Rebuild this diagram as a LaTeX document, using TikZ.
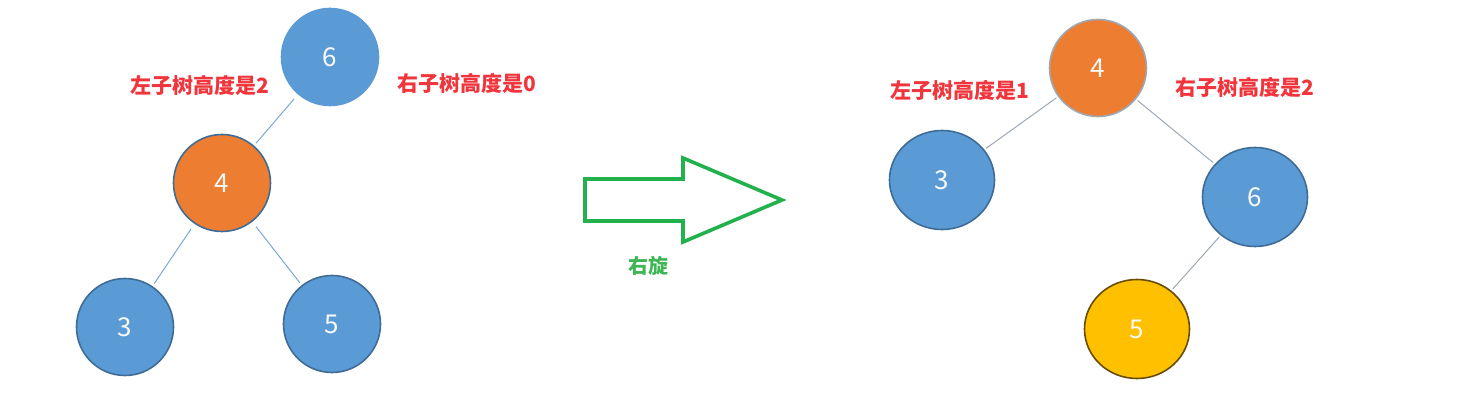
\documentclass[tikz,border=0pt]{standalone}
\usepackage{fontspec}
\newfontfamily\cjk{Noto Sans CJK SC}
\usetikzlibrary{shapes.geometric,positioning}

\definecolor{nblue}{HTML}{5B9BD5}
\definecolor{nborder}{HTML}{3F6C96}
\definecolor{norange}{HTML}{ED7D31}
\definecolor{nyellow}{HTML}{FFC000}
\definecolor{ered}{HTML}{F0353C}
\definecolor{agreen}{HTML}{22B14C}
\definecolor{lgreen}{HTML}{3DB653}
\definecolor{eblue}{HTML}{7AA8D8}
\definecolor{egray}{HTML}{9EA8B2}

\begin{document}
\begin{tikzpicture}[%
    on grid,                    % Distances are measured centre to centre
    node distance=100pt,        % Global setup of node spacing
    line join=miter,
    ]
% -------------------------------------------------
% A few node styles
\tikzset{
  base/.style={draw=nborder, line width=1.6pt, inner sep=0pt, text=white!95!gray,
    font={\cjk\fontsize{26}{30}\selectfont}},
  cnode/.style={base, circle, fill=nblue, minimum size=97pt},
  enode/.style={base, ellipse, fill=nblue, minimum width=105pt, minimum height=99pt},
  hgt/.style={text=ered, font={\cjk\bfseries\fontsize{21}{25}\selectfont}},
  % Connector line styles for the two trees
  lft/.style={draw=eblue, line width=1pt, shorten <=6pt, shorten >=3pt},
  rgt/.style={draw=egray, line width=1pt, shorten <=2pt, shorten >=2pt},
  rot/.style={draw=agreen, line width=3.6pt},
}
\useasboundingbox (0pt,0pt) rectangle (1484pt,-419pt);
% -------------------------------------------------
% Left tree, before the rotation
\node [cnode, draw=nblue] (l6) at (330pt,-57pt) {6};
\node [cnode, fill=norange, below left = 126pt and 108pt of l6] (l4) {4};
\node [cnode, below left = 144pt and 97pt of l4] (l3) {3};
\node [cnode, below right = 141pt and 110pt of l4] (l5) {5};

\node [hgt, below left = 28pt and 130pt of l6] (lh) {左子树高度是2};
\node [hgt, below right = 26pt and 137pt of l6] (rh) {右子树高度是0};

\draw[lft] (l6) to (l4);		%6,4
\draw[lft] (l4) to (l3);		%4,3
\draw[lft] (l4) to (l5);		%4,5

% -------------------------------------------------
% The rotation arrow
\coordinate (a) at (585pt,-179pt);
\draw[rot] (a) -- ++(98pt,0pt) -- ++(0pt,21pt) -- ++(99pt,-42pt)
  -- ++(-99pt,-42pt) -- ++(0pt,21pt) -- ++(-98pt,0pt) -- cycle;
\node [text=lgreen, font={\cjk\bfseries\fontsize{20}{24}\selectfont}] (rl)
  at (648pt,-266pt) {右旋};

% -------------------------------------------------
% Right tree, after the rotation
\node [cnode, fill=norange, draw=egray, minimum size=97pt] (r4) at (1098pt,-68pt) {4};
\node [enode, below left = 112pt and 156pt of r4] (r3) {3};
\node [enode, below right = 129pt and 157pt of r4] (r6) {6};
\node [enode, fill=nyellow, draw=black!60!nyellow, below left = 132pt and 118pt of r6] (r5) {5};

\node [hgt, below left = 22pt and 138pt of r4] (lh2) {左子树高度是1};
\node [hgt, below right = 19pt and 147pt of r4] (rh2) {右子树高度是2};

\draw[rgt] (r4) to (r3);		%4,3
\draw[rgt] (r4) to (r6);		%4,6
\draw[rgt] (r6) to (r5);		%6,5

% -------------------------------------------------
\end{tikzpicture}
\end{document}
